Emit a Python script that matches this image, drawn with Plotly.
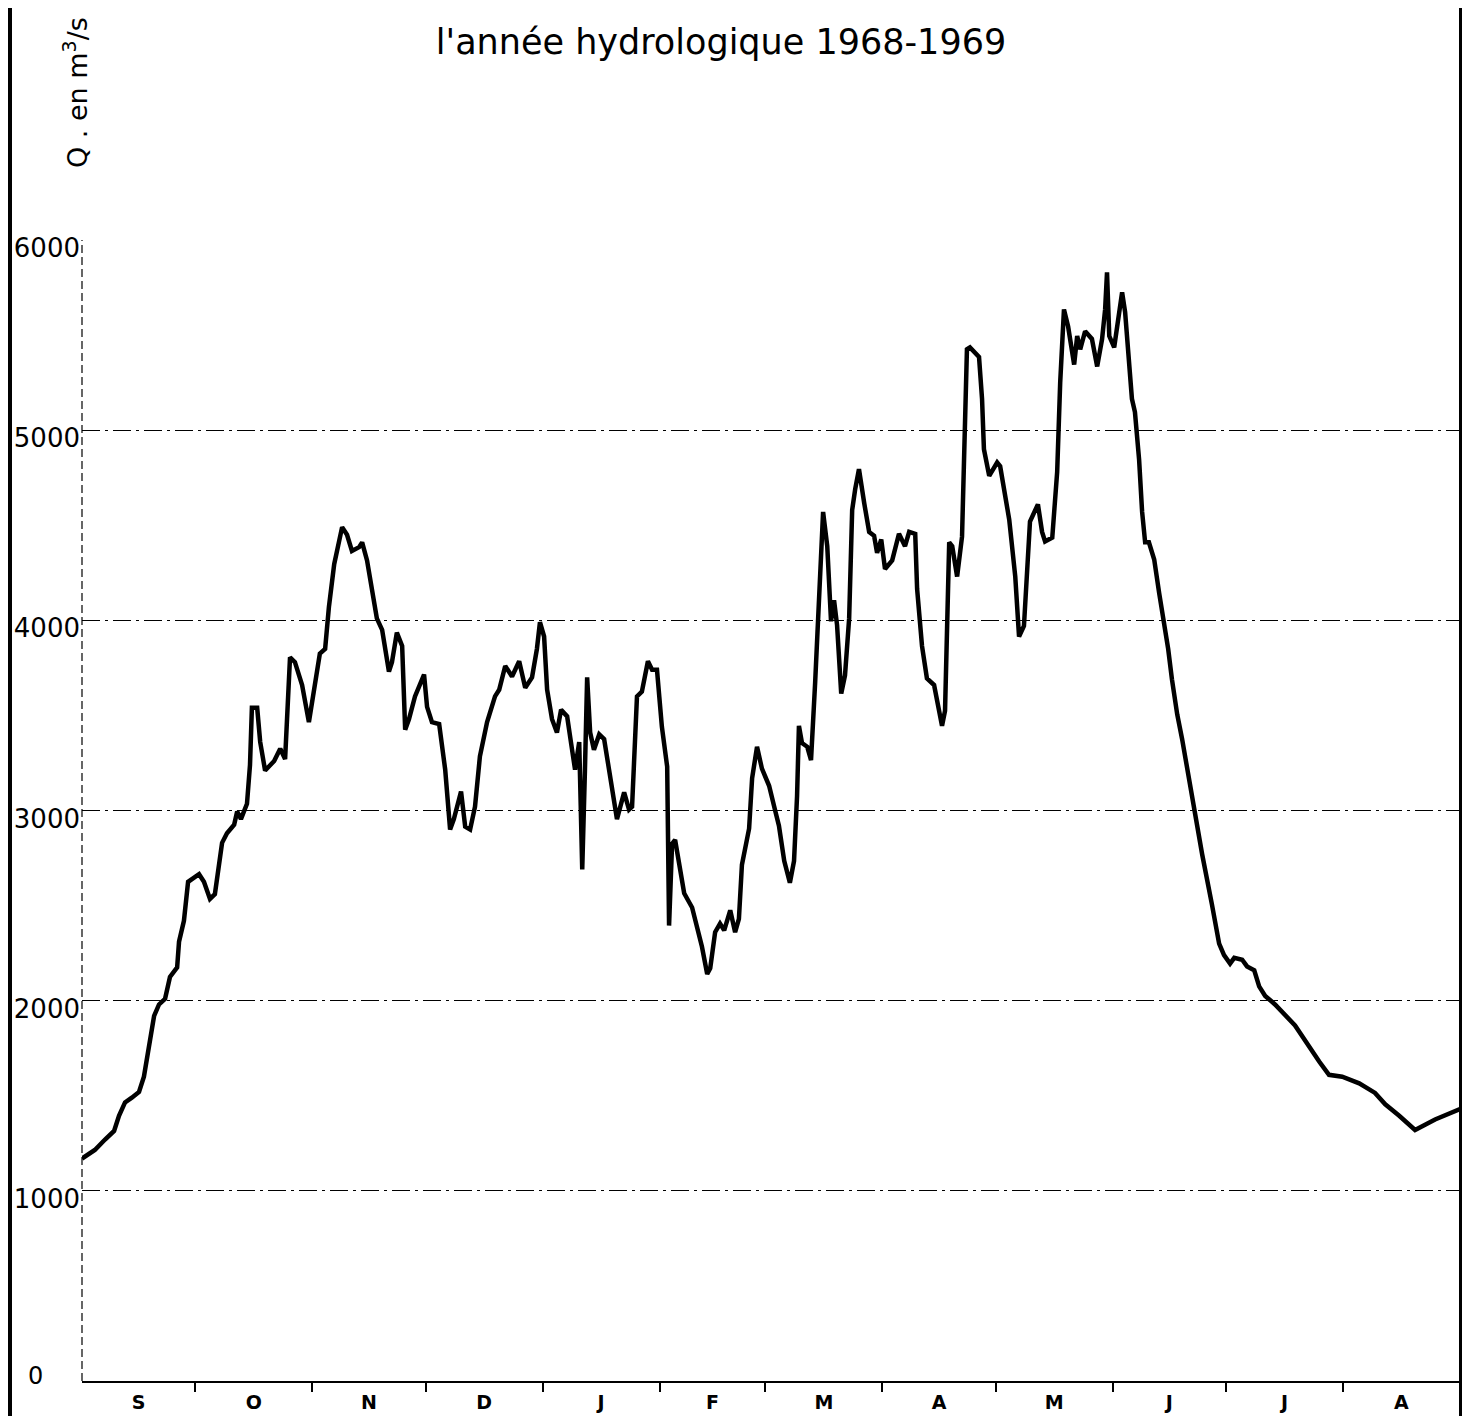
import plotly.graph_objects as go

# Day index from 1 Sept 1968 (hydrological year 1968-1969)
days = [0, 3.4, 6.1, 8.5, 9.8, 11.4, 13.2, 15.1, 16.4, 17.2, 18.0, 19.1, 20.4, 22.0, 23.3, 25.2, 25.7, 27.0, 28.1, 29.7,
        31.0, 32.3, 33.9, 35.2, 37.1, 38.4, 40.3, 41.1, 42.1, 43.7, 44.5, 45.0, 46.4, 47.2, 48.5, 50.9, 52.5, 53.8, 55.1, 56.4,
        58.3, 60.1, 61.7, 63.0, 64.4, 65.4, 66.8, 68.1, 68.9, 70.2, 71.5, 73.4, 74.2, 75.5, 76.8, 78.1, 79.5, 80.0, 81.3, 82.1,
        83.4, 84.8, 85.6, 86.6, 88.2, 90.6, 91.4, 92.7, 94.6, 96.2, 97.5, 98.5, 100.4, 101.5, 102.8, 104.1, 105.4, 107.3, 109.4, 110.5,
        112.1, 113.9, 115.8, 117.4, 119.2, 120.5, 121.3, 122.4, 123.2, 124.5, 125.8, 126.9, 128.5, 129.5, 130.6, 131.7, 132.5, 133.2, 133.8, 134.6,
        135.6, 137.0, 138.3, 139.6, 141.7, 143.6, 144.9, 145.7, 147.0, 148.3, 149.9, 151.0, 152.3, 153.6, 155.0, 155.5, 156.3, 157.1, 159.5, 161.6,
        163.4, 164.2, 165.6, 166.4, 167.7, 169.0, 170.1, 171.7, 173.0, 174.0, 174.8, 176.7, 177.5, 178.8, 180.1, 182.0, 183.6, 184.6, 186.0, 187.5,
        188.6, 189.4, 189.9, 190.7, 192.1, 193.1, 194.2, 195.2, 196.3, 197.4, 198.4, 199.2, 200.0, 201.1, 202.1, 203.2, 204.0, 204.8, 205.8, 207.2,
        208.5, 209.8, 210.6, 211.7, 212.7, 214.6, 216.4, 218.0, 219.1, 220.7, 221.2, 222.5, 223.8, 225.7, 227.0, 227.8, 228.6, 229.7, 230.5, 231.8,
        233.1, 234.4, 235.2, 237.6, 238.4, 238.9, 240.3, 242.4, 243.2, 245.6, 247.2, 248.2, 249.5, 251.1, 253.2, 254.3, 255.1, 257.0, 258.3, 259.1,
        260.1, 261.2, 262.8, 263.6, 264.4, 265.7, 267.5, 268.9, 270.2, 271.0, 271.5, 272.1, 273.4, 274.4, 275.5, 276.3, 277.4, 278.1, 278.9, 280.0,
        280.8, 281.6, 282.6, 284.0, 285.3, 286.6, 287.7, 288.7, 290.1, 291.4, 293.0, 294.6, 296.7, 299.3, 301.2, 302.5, 304.1, 305.2, 307.3, 308.6,
        310.5, 311.8, 313.4, 316.0, 321.3, 327.7, 330.3, 333.8, 338.3, 342.5, 345.2, 348.9, 353.1, 358.4, 362.9, 365.0]

discharge = [1170, 1215, 1270, 1315, 1395, 1465, 1490, 1520, 1600, 1695, 1805, 1920, 1980, 2010, 2125, 2175, 2310, 2420, 2625, 2650,
             2665, 2625, 2535, 2560, 2830, 2880, 2925, 2995, 2955, 3035, 3240, 3540, 3540, 3360, 3210, 3260, 3325, 3270, 3805, 3780,
             3660, 3465, 3680, 3825, 3850, 4070, 4295, 4430, 4490, 4450, 4365, 4385, 4410, 4315, 4160, 4010, 3950, 3885, 3730, 3780,
             3935, 3865, 3425, 3480, 3600, 3715, 3545, 3465, 3455, 3215, 2900, 2955, 3100, 2915, 2900, 3020, 3285, 3465, 3600, 3635,
             3760, 3705, 3785, 3645, 3700, 3850, 3990, 3915, 3635, 3480, 3410, 3530, 3495, 3360, 3215, 3360, 2690, 3200, 3700, 3410,
             3320, 3400, 3375, 3215, 2955, 3095, 3005, 3020, 3600, 3625, 3785, 3740, 3740, 3440, 3230, 2395, 2825, 2845, 2565, 2490,
             2360, 2285, 2140, 2170, 2360, 2405, 2370, 2475, 2360, 2430, 2715, 2905, 3170, 3335, 3220, 3130, 3000, 2920, 2735, 2620,
             2735, 3075, 3445, 3355, 3335, 3265, 3675, 4090, 4570, 4390, 3995, 4105, 3975, 3615, 3710, 4010, 4580, 4690, 4795, 4615,
             4465, 4445, 4355, 4425, 4270, 4315, 4455, 4390, 4465, 4455, 4165, 3865, 3695, 3660, 3525, 3445, 3525, 4410, 4390, 4230,
             4440, 5425, 5435, 5385, 5165, 4900, 4760, 4830, 4810, 4530, 4230, 3915, 3970, 4520, 4610, 4465, 4415, 4435, 4780, 5250,
             5635, 5545, 5345, 5495, 5425, 5520, 5480, 5335, 5480, 5635, 5830, 5495, 5435, 5585, 5725, 5620, 5375, 5165, 5095, 4845,
             4570, 4410, 4410, 4320, 4145, 4000, 3850, 3690, 3505, 3375, 3190, 3000, 2770, 2505, 2300, 2240, 2195, 2225, 2215, 2180,
             2160, 2075, 2025, 1980, 1870, 1680, 1610, 1600, 1565, 1515, 1455, 1395, 1320, 1375, 1410, 1430]

month_bounds = [0, 30, 61, 91, 122, 153, 181, 212, 242, 273, 303, 334, 365]
month_labels = ["S", "O", "N", "D", "J", "F", "M", "A", "M", "J", "J", "A"]
y_ticks = [1000, 2000, 3000, 4000, 5000, 6000]

month_mid = [(a + b) / 2 for a, b in zip(month_bounds[:-1], month_bounds[1:])]

fig = go.Figure()
fig.add_trace(go.Scatter(
    x=days, y=discharge, mode="lines",
    line=dict(color="black", width=4.5),
    showlegend=False, hoverinfo="skip",
))

# page is offset by the 8px body margin of the browser
W, H = 1462, 1408
ml, mr, mt, mb = 74, 10, 232, 35
ph = H - mt - mb
pw = W - ml - mr

fig.update_layout(
    width=W, height=H,
    margin=dict(l=ml, r=mr, t=mt, b=mb, autoexpand=False),
    paper_bgcolor="white", plot_bgcolor="white",
    font=dict(family="DejaVu Sans", color="black"),
    title=dict(
        text="l'année hydrologique 1968-1969",
        x=(721 - 8) / W, xref="container", xanchor="center",
        y=1 - (42 - 8) / H, yref="container", yanchor="middle",
        font=dict(size=35, family="DejaVu Sans", color="black"),
    ),
    xaxis=dict(
        range=[0, 365], showgrid=False, zeroline=False,
        showline=True, linecolor="black", linewidth=2,
        tickmode="array", tickvals=month_mid, ticktext=month_labels,
        ticks="", ticklabelstandoff=3,
        tickfont=dict(size=19, family="DejaVu Sans", weight="bold", color="black"),
        minor=dict(tickmode="array", tickvals=month_bounds[1:-1], ticks="outside",
                   ticklen=9, tickwidth=2, tickcolor="black", showgrid=False),
    ),
    yaxis=dict(
        range=[0, 6000], showline=False, zeroline=False,
        tickmode="array", tickvals=y_ticks, ticktext=[str(v) for v in y_ticks],
        ticks="", ticklabelshift=8, ticklabelstandoff=1,
        showgrid=True, gridcolor="black", gridwidth=1.2, griddash="18px,5px,3px,5px",
        tickfont=dict(size=26, family="DejaVu Sans", color="black"),
    ),
)

# zero label on the y axis (placed to the left like the original)
fig.add_annotation(text="0", x=0, xref="paper", y=0, yref="y", xanchor="center",
                   xshift=-47, yshift=5, showarrow=False,
                   font=dict(size=24, family="DejaVu Sans", color="black"))

# y axis title (vertical, above plot)
fig.add_annotation(text="Q . en m<sup>3</sup>/s", textangle=-90,
                   x=0, xref="paper", xanchor="center", xshift=-7,
                   y=1 + 147 / ph, yref="paper", yanchor="middle",
                   showarrow=False, font=dict(size=27, family="DejaVu Sans", color="black"))

# dashed left axis
fig.add_shape(type="line", xref="paper", yref="paper", x0=0, x1=0, y0=0, y1=1,
              line=dict(color="black", width=1.2, dash="8px,4px"))
# page borders
fig.add_shape(type="line", xref="paper", yref="paper",
              x0=(2 - ml) / pw, x1=(2 - ml) / pw, y0=-mb / ph, y1=1 + mt / ph,
              line=dict(color="black", width=4))
fig.add_shape(type="line", xref="paper", yref="paper",
              x0=1 + 1 / pw, x1=1 + 1 / pw, y0=-mb / ph, y1=1 + mt / ph,
              line=dict(color="black", width=4))

fig.write_html("out.html")
